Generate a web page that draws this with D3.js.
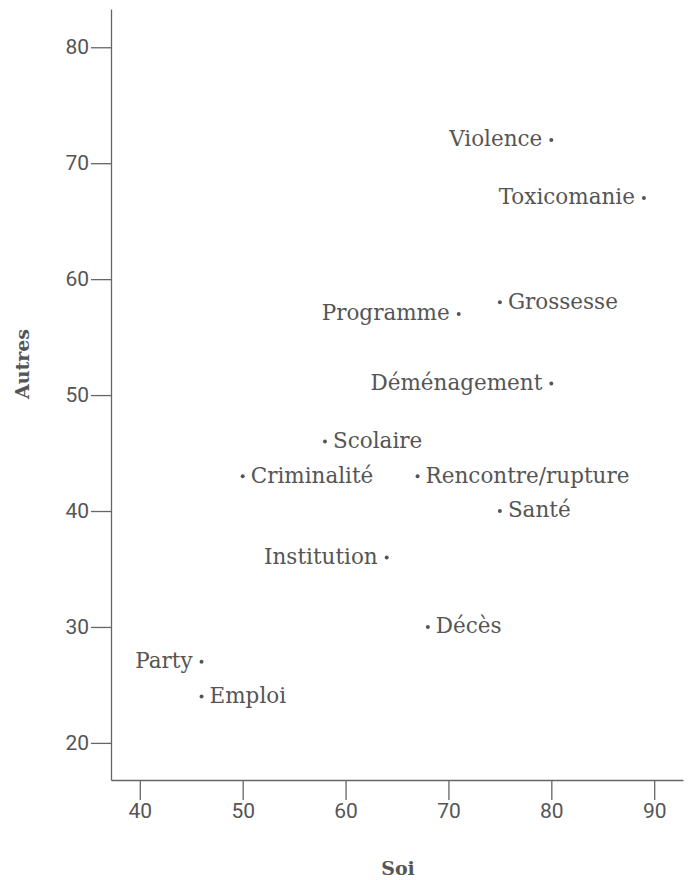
<!DOCTYPE html>
<html>
<head>
<meta charset="utf-8">
<script src="https://cdn.jsdelivr.net/npm/d3@7"></script>
<style>
  body { margin: 0; background: #fff; }
  svg text { font-family: "DejaVu Serif", serif; fill: #555; }
  .axis path, .axis line { stroke: #666; stroke-width: 1.3; }
</style>
</head>
<body>
<div id="chart"></div>
<script>
// themes, x = Soi, y = Autres
var labels = ["Violence", "Toxicomanie", "Grossesse", "Programme", "Déménagement",
  "Scolaire", "Criminalité", "Rencontre/rupture", "Santé", "Institution",
  "Décès", "Party", "Emploi"];
var soi = [80, 89, 75, 71, 80, 58, 50, 67, 75, 64, 68, 46, 46];
var autres = [72, 67, 58, 57, 51, 46, 43, 43, 40, 36, 30, 27, 24];
// which side the label sits on
var side = ["left", "left", "right", "left", "left", "right", "right", "right",
  "right", "left", "right", "left", "right"];

var xTicks = [40, 50, 60, 70, 80, 90];
var yTicks = [20, 30, 40, 50, 60, 70, 80];

var width = 688, height = 880;
var svg = d3.select("#chart").append("svg")
    .attr("width", width)
    .attr("height", height);

var x = d3.scaleLinear().domain([37.2, 92.8]).range([111, 683]);
var y = d3.scaleLinear().domain([16.8, 83.3]).range([780, 9]);

// axes
svg.append("g")
    .attr("class", "axis")
    .attr("transform", "translate(0,780)")
    .call(d3.axisBottom(x).tickValues(xTicks).tickSize(20).tickSizeOuter(0).tickPadding(3));

svg.append("g")
    .attr("class", "axis")
    .attr("transform", "translate(111,0)")
    .call(d3.axisLeft(y).tickValues(yTicks).tickSize(20).tickSizeOuter(0).tickPadding(2));

svg.selectAll(".axis text")
    .style("font-family", "Roboto, sans-serif")
    .style("font-size", "21px")
    .style("fill", "#555");

// axis titles
svg.append("text")
    .attr("x", 398)
    .attr("y", 875)
    .style("text-anchor", "middle")
    .style("font-weight", "bold")
    .style("font-size", "19px")
    .text("Soi");

svg.append("text")
    .attr("transform", "translate(29,364) rotate(-90)")
    .style("text-anchor", "middle")
    .style("font-weight", "bold")
    .style("font-size", "19px")
    .text("Autres");

// points
var pts = svg.append("g").selectAll("g")
    .data(labels)
  .enter().append("g")
    .attr("transform", function(d, i) {
      return "translate(" + x(soi[i]) + "," + y(autres[i]) + ")"; });

pts.append("circle")
    .attr("r", 2)
    .style("fill", "#555");

pts.append("text")
    .attr("x", function(d, i) { return side[i] == "left" ? -9 : 8; })
    .attr("dy", "0.3em")
    .style("text-anchor", function(d, i) { return side[i] == "left" ? "end" : "start"; })
    .style("font-size", "21.5px")
    .text(function(d) { return d; });
</script>
</body>
</html>
